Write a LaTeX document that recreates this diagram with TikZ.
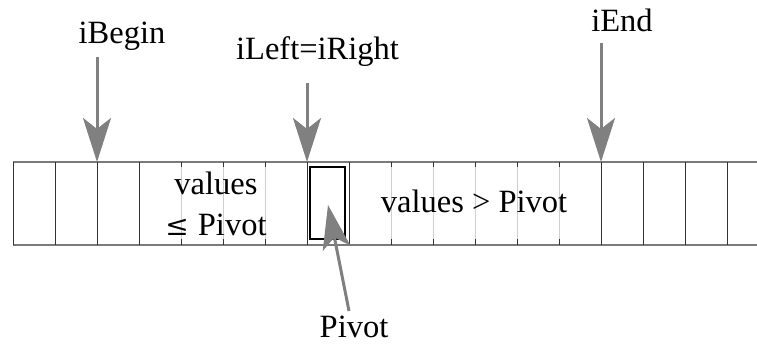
\documentclass[tikz,border=0pt]{standalone}
\usepackage{fontspec}
\setmainfont{Liberation Serif}
\newfontfamily\symfnt{DejaVu Serif}
\usetikzlibrary{arrows.meta}
\definecolor{arrowgray}{HTML}{808080}
\definecolor{framegray}{HTML}{7A7A7A}
\definecolor{cellline}{HTML}{333333}
\definecolor{lightline}{HTML}{CFCFCF}
\tikzset{
  lbl/.style={inner sep=0pt, anchor=base, font=\fontsize{32.5}{34}\selectfont},
  pointer/.style={draw=arrowgray, line width=3pt,
    -{Stealth[length=44pt, width=28pt, inset=11pt, fill=arrowgray]}},
  frameline/.style={draw=framegray, line width=1.1pt},
  darkcell/.style={draw=cellline, line width=1pt},
  lightcell/.style={draw=lightline, line width=1pt},
  tick/.style={draw=cellline, line width=1pt},
  pivotbox/.style={draw=black, line width=1.2pt}
}
\begin{document}
\begin{tikzpicture}[x=1pt, y=1pt]
\useasboundingbox (0,0) rectangle (757,344);
% array frame
\draw[frameline] (13,182) -- (757,182);
\draw[frameline] (13,99) -- (757,99);
% full cell separators
\foreach \x in {13,55,97,139,307,349,601,643,685,727}
  \draw[darkcell] (\x,99) -- (\x,182);
% light separators with ticks
\foreach \x in {181,223,265,391,433,475,517,559} {
  \draw[lightcell] (\x,99) -- (\x,182);
  \draw[tick] (\x,182) -- (\x,177);
  \draw[tick] (\x,99) -- (\x,105);
}
% pivot box
\node[pivotbox, minimum width=35pt, minimum height=72pt, inner sep=0pt] (pbox) at (327.5,141) {};
% region texts
\node[lbl] (vleft1) at (216,149) {values};
\node[lbl] (vleft2) at (216,108) {{\symfnt\fontsize{28}{30}\selectfont ≤}\hspace{9pt}Pivot};
\node[lbl] (vright) at (474,131) {values > Pivot};
% labels
\node[lbl] (lBegin) at (122,300) {iBegin};
\node[lbl] (lLeft) at (317.5,284) {iLeft=iRight};
\node[lbl] (lEnd) at (622,312) {iEnd};
\node[lbl] (lPivot) at (354,6) {Pivot};
% arrow endpoints
\coordinate (sBegin) at (97,287);
\coordinate (tBegin) at (97,182);
\coordinate (sLeft) at (307,261);
\coordinate (tLeft) at (307,182);
\coordinate (sEnd) at (601,301);
\coordinate (tEnd) at (601,182);
\coordinate (sPivot) at (349,33);
\coordinate (tPivot) at (328,139);
\draw[pointer] (sBegin) -- (tBegin);
\draw[pointer] (sLeft) -- (tLeft);
\draw[pointer] (sEnd) -- (tEnd);
\draw[pointer] (sPivot) -- (tPivot);
\end{tikzpicture}
\end{document}
